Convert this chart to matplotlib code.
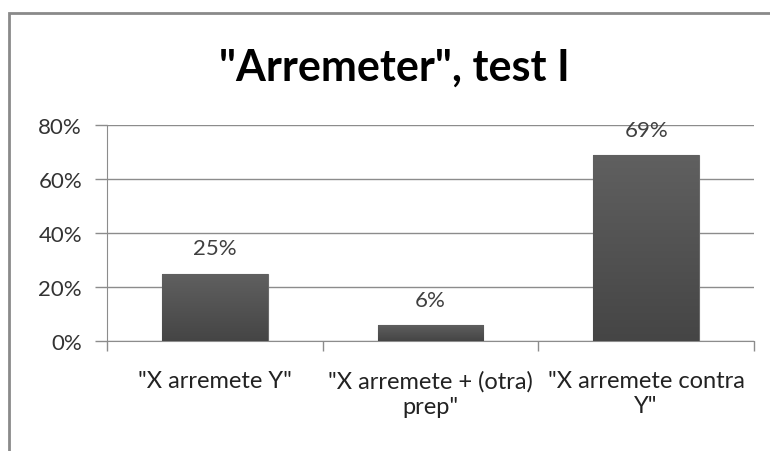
import numpy as np
import matplotlib
matplotlib.use('Agg')
import matplotlib.pyplot as plt
from matplotlib.patches import Rectangle

categories = ['"X arremete Y"', '"X arremete + (otra)\nprep"', '"X arremete contra\nY"']
values = [25, 6, 69]
value_labels = ['25%', '6%', '69%']
yticks = [0, 20, 40, 60, 80]
ytick_labels = ['0%', '20%', '40%', '60%', '80%']
title = '"Arremeter", test I'

plt.rcParams['font.family'] = ['Lato', 'DejaVu Sans']

W, H = 770, 452
fig = plt.figure(figsize=(W / 100, H / 100), dpi=100)
fig.patch.set_facecolor('white')

# outer chart frame (runs off the right/bottom edge)
fig.patches.append(Rectangle((9 / W, -0.1), 1.2, 1.1 - 14 / H, transform=fig.transFigure,
                             fill=False, edgecolor='#8a8a8a', lw=2))

ax = fig.add_axes([107 / W, 1 - 342 / H, (754 - 107) / W, (342 - 126) / H])
x = np.arange(len(categories))
bw = 0.49

# gradient bars
grad = np.linspace(0, 1, 256).reshape(-1, 1)
cmap = matplotlib.colors.LinearSegmentedColormap.from_list('g', ['#454545', '#606060'])
for xi, v in zip(x, values):
    bar = ax.bar(xi, v, width=bw, color='#555555', edgecolor='#6a6a6a', lw=0.8, zorder=3)[0]
    im = ax.imshow(grad, extent=[xi - bw / 2, xi + bw / 2, 0, v], aspect='auto',
                   cmap=cmap, origin='lower', zorder=3.5)
    im.set_clip_path(bar)

for xi, v, lab in zip(x, values, value_labels):
    ax.annotate(lab, (xi, v), xytext=(0, 18), textcoords='offset points',
                ha='center', va='center', fontsize=16, color='#404040')

ax.set_xlim(-0.5, len(categories) - 0.5)
ax.set_ylim(0, 80)
ax.set_yticks(yticks)
ax.set_yticklabels(ytick_labels, fontsize=16, color='#333333')
ax.set_xticks(x)
ax.set_xticklabels(categories, fontsize=17, color='#222222', linespacing=1.25, va='top')
ax.set_xticks(np.arange(len(categories) + 1) - 0.5, minor=True)
ax.tick_params(axis='x', which='major', length=0, pad=21)
ax.tick_params(axis='x', which='minor', length=7, color='#8c8c8c', width=1)
ax.tick_params(axis='y', length=9, color='#8c8c8c', width=1, pad=9)

ax.grid(axis='y', color='#8c8c8c', lw=1, zorder=0)
ax.set_axisbelow(True)
for s in ['top', 'right']:
    ax.spines[s].set_visible(False)
ax.spines['left'].set_color('#8c8c8c')
ax.spines['bottom'].set_color('#8c8c8c')

fig.text(394 / W, 1 - 68 / H, title, ha='center', va='center', fontsize=31,
         fontweight='bold', color='black')

fig.savefig('out.png', dpi=100)
